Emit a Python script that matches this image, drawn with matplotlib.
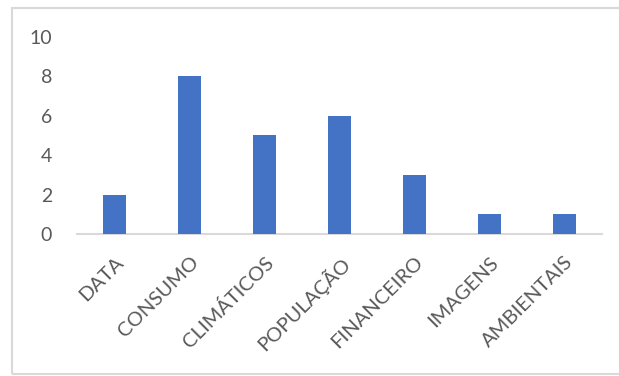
import matplotlib.pyplot as plt
from matplotlib.patches import Rectangle

categorias = ["DATA", "CONSUMO", "CLIMÁTICOS", "POPULAÇÃO", "FINANCEIRO", "IMAGENS", "AMBIENTAIS"]
valores = [2, 8, 5, 6, 3, 1, 1]
yticks = [0, 2, 4, 6, 8, 10]

plt.rcParams['font.family'] = ['Lato', 'DejaVu Sans']

fig = plt.figure(figsize=(6.19, 3.76), dpi=100)
ax = fig.add_axes([0.1244, 0.3777, 0.848, 0.5239])

x = range(len(categorias))
ax.bar(x, valores, width=0.31, color="#4472C4", zorder=3)

ax.set_xlim(-0.5, len(categorias) - 0.5)
ax.set_ylim(0, 10)
ax.set_yticks(yticks)
ax.set_yticklabels([str(v) for v in yticks], fontsize=14, color="#595959")
ax.set_xticks(list(x))
ax.set_xticklabels(categorias, rotation=45, ha="right", rotation_mode="anchor",
                   fontsize=14.5, color="#595959")

for s in ["top", "right", "left"]:
    ax.spines[s].set_visible(False)
ax.spines["bottom"].set_color("#d9d9d9")
ax.spines["bottom"].set_linewidth(1.5)
ax.tick_params(axis="both", length=0)
ax.tick_params(axis="y", pad=18)
ax.tick_params(axis="x", pad=14)

# moldura do gráfico
fig.patches.append(Rectangle((12 / 619, 2 / 376), 1.0, 366 / 376, transform=fig.transFigure,
                             fill=False, edgecolor="#d9d9d9", linewidth=1.5))

fig.savefig("out.png", dpi=100)
